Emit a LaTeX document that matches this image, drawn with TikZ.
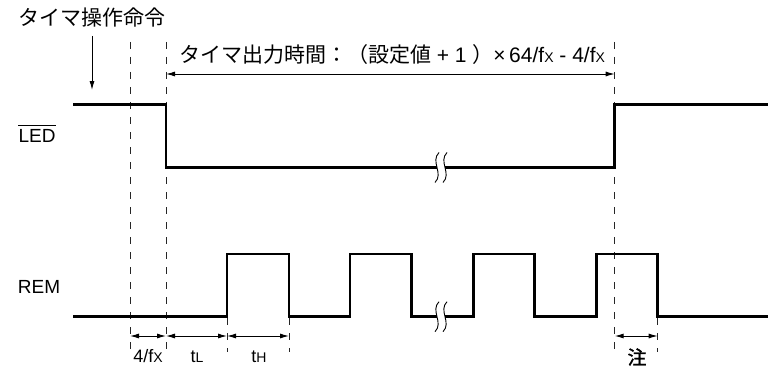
\documentclass[tikz,border=0pt]{standalone}
\usepackage{fontspec}
\setmainfont{Liberation Sans}
\newfontfamily\cjk{Noto Sans CJK JP}
\newfontfamily\cjkb[FakeBold=1.5]{Noto Sans CJK JP}
\usetikzlibrary{arrows.meta}
\newcommand{\smx}[1]{{\fontsize{14}{14}\selectfont #1}}
\tikzset{
  wave/.style={line width=2.6pt, line join=miter},
  guide/.style={line width=1pt, dash pattern=on 7pt off 8pt, black!85},
  dim/.style={line width=1pt, {Latex[length=9pt,width=5pt]}-{Latex[length=9pt,width=5pt]}},
  onearrow/.style={line width=1pt, -{Latex[length=9pt,width=5pt]}},
  brk/.style={line width=0.9pt},
  lbl/.style={font=\fontsize{18}{20}\selectfont, inner sep=0pt},
  sig/.style={font=\fontsize{19}{22}\selectfont, inner sep=0pt},
  big/.style={font=\fontsize{21}{24}\selectfont, inner sep=0pt},
  sq/.pic={\draw[brk] (2,-15) .. controls (-7,-6) and (7,6) .. (-2,15);}
}
\begin{document}
\begin{tikzpicture}[x=1pt,y=-1pt]
\useasboundingbox[fill=white] (0,0) rectangle (768,369);
% guide lines
\coordinate (g1t) at (130,42);   \coordinate (g1b) at (130,352);
\coordinate (g2t) at (166,42);   \coordinate (g2b) at (166,352);
\coordinate (g3t) at (614.7,42); \coordinate (g3b) at (614.7,352);
\coordinate (g4t) at (227,318);  \coordinate (g4b) at (227,352);
\coordinate (g5t) at (289,318);  \coordinate (g5b) at (289,352);
\coordinate (g6t) at (657.7,318);\coordinate (g6b) at (657.7,352);
\foreach \i in {1,...,6} {\draw[guide] (g\i t) -- (g\i b);}
% LED waveform
\draw[wave] (73,104.5) -- (166,104.5) -- (166,167.5) -- (437,167.5);
\draw[wave] (445,167.5) -- (614.7,167.5) -- (614.7,104.5) -- (768,104.5);
\pic at (437,167.5) {sq};
\pic at (445,167.5) {sq};
% REM waveform
\draw[wave] (73,316.7) -| (227,254) -| (289,316.7) -| (350,254) -| (411.7,316.7) -- (437,316.7);
\draw[wave] (445,316.7) -| (473.3,254) -| (534.3,316.7) -| (596.7,254) -| (657.7,316.7) -- (768,316.7);
\pic at (437,316.7) {sq};
\pic at (445,316.7) {sq};
% labels
\node[big] (cmd) at (91.5,18) {\cjk タイマ操作命令};
\coordinate (cmdA) at (92,36); \coordinate (cmdB) at (92,90);
\draw[onearrow] (cmdA) -- (cmdB);
\node[big] (tout) at (392,55) {{\cjk タイマ出力時間：（設定値} + 1 {\cjk ）}×\,64/f\smx{X} - 4/f\smx{X}};
\coordinate (toA) at (166,74); \coordinate (toB) at (614.7,74);
\draw[dim] (toA) -- (toB);
\node[sig] (led) at (37,136) {LED};
\draw[line width=1pt] ([yshift=4pt]led.north west) -- ([yshift=4pt]led.north east);
\node[sig] (rem) at (39,287) {REM};
% dimensions
\coordinate (d1) at (130,336); \coordinate (d2) at (166,336);
\coordinate (d3) at (227,336); \coordinate (d4) at (289,336);
\coordinate (d5) at (614.7,336); \coordinate (d6) at (657.7,336);
\draw[dim] (d1) -- (d2);
\draw[dim] (d2) -- (d3);
\draw[dim] (d3) -- (d4);
\draw[dim] (d5) -- (d6);
\node[lbl] (lfx) at (148,356) {4/f\smx{X}};
\node[lbl] (ltl) at (197,357) {t\smx{L}};
\node[lbl] (lth) at (259,357) {t\smx{H}};
\node[lbl, font=\fontsize{19}{22}\selectfont] (note) at (637,357) {\cjkb 注};
\end{tikzpicture}
\end{document}
